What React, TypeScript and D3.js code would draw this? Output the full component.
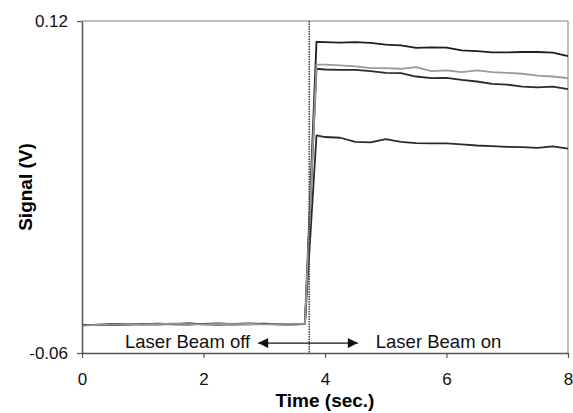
import React, { useEffect, useRef } from 'react';
import * as d3 from 'd3';

// time points (sec.) shared by all four traces
const times = [
  0, 0.25, 0.5, 0.75, 1, 1.25, 1.5, 1.75, 2, 2.25, 2.5, 2.75, 3, 3.25, 3.5, 3.67,
  3.86, 4, 4.25, 4.5, 4.75, 5, 5.25, 5.5, 5.75, 6, 6.25, 6.5, 6.75, 7, 7.25, 7.5, 7.75, 8,
];

const traceA = [
  -0.0449, -0.0447, -0.0444, -0.0446, -0.0443, -0.0441, -0.0444, -0.0446, -0.0442, -0.0440,
  -0.0443, -0.0445, -0.0442, -0.0444, -0.0443, -0.0441,
  0.1087, 0.1085, 0.1083, 0.1085, 0.1081, 0.1072, 0.1068, 0.1054, 0.1057, 0.1056,
  0.1041, 0.1037, 0.1030, 0.1030, 0.1032, 0.1032, 0.1028, 0.1010,
];

const traceGray = [
  -0.0452, -0.0448, -0.0446, -0.0443, -0.0445, -0.0443, -0.0440, -0.0443, -0.0445, -0.0442,
  -0.0444, -0.0442, -0.0445, -0.0443, -0.0441, -0.0443,
  0.0963, 0.0963, 0.0959, 0.0954, 0.0945, 0.0945, 0.0941, 0.0950, 0.0928, 0.0932,
  0.0923, 0.0932, 0.0923, 0.0919, 0.0914, 0.0904, 0.0899, 0.0890,
];

const traceB = [
  -0.0447, -0.0449, -0.0445, -0.0442, -0.0446, -0.0444, -0.0442, -0.0441, -0.0444, -0.0446,
  -0.0442, -0.0440, -0.0443, -0.0445, -0.0444, -0.0442,
  0.0941, 0.0937, 0.0935, 0.0935, 0.0928, 0.0919, 0.0917, 0.0899, 0.0890, 0.0892,
  0.0881, 0.0872, 0.0859, 0.0855, 0.0844, 0.0840, 0.0844, 0.0831,
];

const traceC = [
  -0.0450, -0.0446, -0.0447, -0.0444, -0.0442, -0.0445, -0.0443, -0.0440, -0.0443, -0.0444,
  -0.0446, -0.0443, -0.0441, -0.0443, -0.0445, -0.0443,
  0.0580, 0.0571, 0.0567, 0.0545, 0.0542, 0.0560, 0.0545, 0.0538, 0.0536, 0.0536,
  0.0531, 0.0525, 0.0522, 0.0518, 0.0516, 0.0512, 0.0520, 0.0508,
];

const traces = [
  { values: traceA, color: '#1e1e1e' },
  { values: traceB, color: '#2a2a2a' },
  { values: traceC, color: '#2a2a2a' },
  { values: traceGray, color: '#9a9a9a' },
];

const xTicks = [0, 2, 4, 6, 8];
const yTicks = [-0.06, 0.12];
const yTickLabels = ['-0.06', '0.12'];

// laser switched on here
const laserOnTime = 3.74;
const arrowFrom = 2.9;
const arrowTo = 4.54;
const arrowLevel = -0.0546;
const labelLevel = -0.0575;

const App = () => {
  const svgRef = useRef(null);
  const width = 573, height = 413;
  const margin = { top: 21, right: 5, bottom: 60, left: 82 };
  const innerWidth = width - margin.left - margin.right;
  const innerHeight = height - margin.top - margin.bottom;

  useEffect(() => {
    const svg = d3.select(svgRef.current);
    svg.selectAll('*').remove();
    const font = '"Liberation Sans", Arial, Helvetica, sans-serif';

    const x = d3.scaleLinear().domain([0, 8]).range([0, innerWidth]);
    const y = d3.scaleLinear().domain([-0.06, 0.12]).range([innerHeight, 0]);

    const g = svg.append('g')
      .attr('transform', `translate(${margin.left},${margin.top})`);

    // light frame on top and right
    g.append('line').attr('x1', 0).attr('x2', innerWidth).attr('y1', 0).attr('y2', 0)
      .attr('stroke', '#a8a8a8').attr('stroke-width', 1.5);
    g.append('line').attr('x1', innerWidth).attr('x2', innerWidth).attr('y1', 0).attr('y2', innerHeight)
      .attr('stroke', '#a8a8a8').attr('stroke-width', 1.5);

    // traces
    const line = d3.line<number>()
      .x((d, i) => x(times[i]))
      .y(d => y(d));

    traces.forEach(t => {
      g.append('path')
        .datum(t.values)
        .attr('d', line)
        .attr('fill', 'none')
        .attr('stroke', t.color)
        .attr('stroke-width', 1.8)
        .attr('stroke-linejoin', 'round');
    });

    // dotted marker
    g.append('line')
      .attr('x1', x(laserOnTime)).attr('x2', x(laserOnTime))
      .attr('y1', 0).attr('y2', innerHeight)
      .attr('stroke', '#333').attr('stroke-width', 1.4)
      .attr('stroke-dasharray', '1.5,1');

    // axes
    const xAxis = g.append('g')
      .attr('transform', `translate(0,${innerHeight})`)
      .call(d3.axisBottom(x).tickValues(xTicks).tickSize(5).tickSizeOuter(0).tickFormat(d3.format('d')));
    const yAxis = g.append('g')
      .call(d3.axisLeft(y).tickValues(yTicks).tickSize(5).tickSizeOuter(0)
        .tickFormat((d, i) => yTickLabels[i]));

    [xAxis, yAxis].forEach(a => {
      a.select('.domain').attr('stroke', '#555').attr('stroke-width', 1.5);
      a.selectAll('.tick line').attr('stroke', '#555').attr('stroke-width', 1.2);
      a.selectAll('text').attr('font-family', font).attr('font-size', 17).attr('fill', '#111');
    });
    xAxis.selectAll('text').attr('dy', '1.4em');
    yAxis.selectAll('text').attr('x', -14);

    // annotation
    const defs = svg.append('defs');
    ['start', 'end'].forEach(k => {
      defs.append('marker')
        .attr('id', `arrow-${k}`)
        .attr('viewBox', '0 0 10 10')
        .attr('refX', k === 'end' ? 10 : 0).attr('refY', 5)
        .attr('markerWidth', 12).attr('markerHeight', 10)
        .attr('markerUnits', 'userSpaceOnUse')
        .attr('orient', 'auto')
        .append('path')
        .attr('d', k === 'end' ? 'M0,0 L10,5 L0,10 Z' : 'M10,0 L0,5 L10,10 Z')
        .attr('fill', '#111');
    });
    g.append('line')
      .attr('x1', x(arrowFrom)).attr('x2', x(arrowTo))
      .attr('y1', y(arrowLevel)).attr('y2', y(arrowLevel))
      .attr('stroke', '#111').attr('stroke-width', 1.3)
      .attr('marker-start', 'url(#arrow-start)')
      .attr('marker-end', 'url(#arrow-end)');
    g.append('text')
      .attr('x', x(arrowFrom) - 8).attr('y', y(labelLevel))
      .attr('text-anchor', 'end')
      .attr('font-family', font).attr('font-size', 18.5).attr('fill', '#111')
      .text('Laser Beam off');
    g.append('text')
      .attr('x', x(arrowTo) + 18).attr('y', y(labelLevel))
      .attr('text-anchor', 'start')
      .attr('font-family', font).attr('font-size', 18.5).attr('fill', '#111')
      .text('Laser Beam on');

    // axis titles
    svg.append('text')
      .attr('x', margin.left + innerWidth / 2).attr('y', 407)
      .attr('text-anchor', 'middle')
      .attr('font-family', font).attr('font-size', 19).attr('font-weight', 'bold')
      .text('Time (sec.)');
    svg.append('text')
      .attr('transform', `translate(32,${margin.top + innerHeight / 2}) rotate(-90)`)
      .attr('text-anchor', 'middle')
      .attr('font-family', font).attr('font-size', 19).attr('font-weight', 'bold')
      .text('Signal (V)');
  }, [innerHeight, innerWidth, margin.left, margin.top]);

  return (
    <div style={{ position: 'absolute', left: 0, top: 0 }}>
      <svg ref={svgRef} width={width} height={height} style={{ display: 'block', background: '#fff' }} />
    </div>
  );
};

export default App;
